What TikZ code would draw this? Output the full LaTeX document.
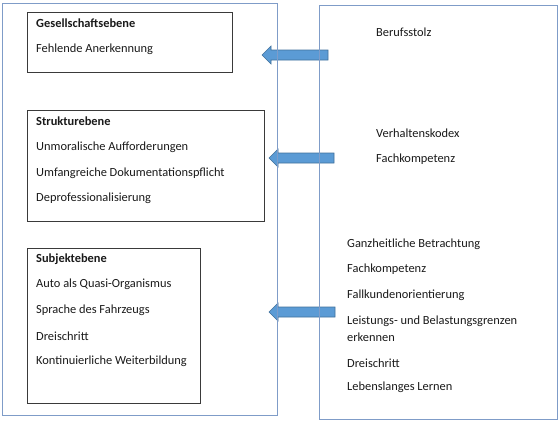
\documentclass[tikz,border=0pt]{standalone}
\usepackage{fontspec}
\setmainfont{Carlito}
\definecolor{framec}{HTML}{7F9CC8}
\definecolor{boxc}{HTML}{3A3A3A}
\definecolor{arrfill}{HTML}{5B9BD5}
\definecolor{arrline}{HTML}{41719C}
\definecolor{txtc}{HTML}{1A1A1A}
\tikzset{
  frame/.style={draw=framec, line width=0.9pt},
  levelbox/.style={draw=boxc, line width=0.8pt},
  txt/.style={anchor=west, inner sep=0pt, text=txtc, font=\fontsize{12.4}{14}\selectfont},
  hd/.style={txt, font=\fontsize{12.4}{14}\selectfont\bfseries},
  blockarrow/.style={fill=arrfill, draw=arrline, line width=0.6pt},
}
\begin{document}
\begin{tikzpicture}[x=1pt,y=-1pt]
\useasboundingbox (0,0) rectangle (560,421);
\fill[white] (0,0) rectangle (560,421);
% block arrows
\draw[blockarrow] (328,50) -- (271,50) -- (271,46) -- (262,55) -- (271,64) -- (271,60) -- (328,60) -- cycle;
\draw[blockarrow] (334,153) -- (278,153) -- (278,149) -- (269,158) -- (278,167) -- (278,163) -- (334,163) -- cycle;
\draw[blockarrow] (335,307) -- (278,307) -- (278,303) -- (269,312) -- (278,321) -- (278,317) -- (335,317) -- cycle;
% frames
\draw[frame] (2,3) rectangle (277,415);
\draw[frame] (319,5) rectangle (557,419);
% level boxes
\draw[levelbox] (27,12) rectangle (232,72);
\draw[levelbox] (27,110) rectangle (264,221);
\draw[levelbox] (27,248) rectangle (200,403);
% left texts
\node[hd] (g1) at (36,23) {Gesellschaftsebene};
\node[txt] (g2) at (36,49) {Fehlende Anerkennung};
\node[hd] (s1) at (36,121) {Strukturebene};
\node[txt] (s2) at (36,147) {Unmoralische Aufforderungen};
\node[txt] (s3) at (36,173) {Umfangreiche Dokumentationspflicht};
\node[txt] (s4) at (36,198) {Deprofessionalisierung};
\node[hd] (u1) at (36,259) {Subjektebene};
\node[txt] (u2) at (36,284) {Auto als Quasi-Organismus};
\node[txt] (u3) at (36,310) {Sprache des Fahrzeugs};
\node[txt] (u4) at (36,336) {Dreischritt};
\node[txt] (u5) at (36,361) {Kontinuierliche Weiterbildung};
% right texts
\node[txt] (r1) at (376,32) {Berufsstolz};
\node[txt] (r2) at (376,133) {Verhaltenskodex};
\node[txt] (r3) at (376,159) {Fachkompetenz};
\node[txt] (r4) at (347,244) {Ganzheitliche Betrachtung};
\node[txt] (r5) at (347,269) {Fachkompetenz};
\node[txt] (r6) at (347,295) {Fallkundenorientierung};
\node[txt] (r7) at (347,321) {Leistungs- und Belastungsgrenzen};
\node[txt] (r8) at (347,337) {erkennen};
\node[txt] (r9) at (347,363) {Dreischritt};
\node[txt] (r10) at (347,387) {Lebenslanges Lernen};
\end{tikzpicture}
\end{document}
